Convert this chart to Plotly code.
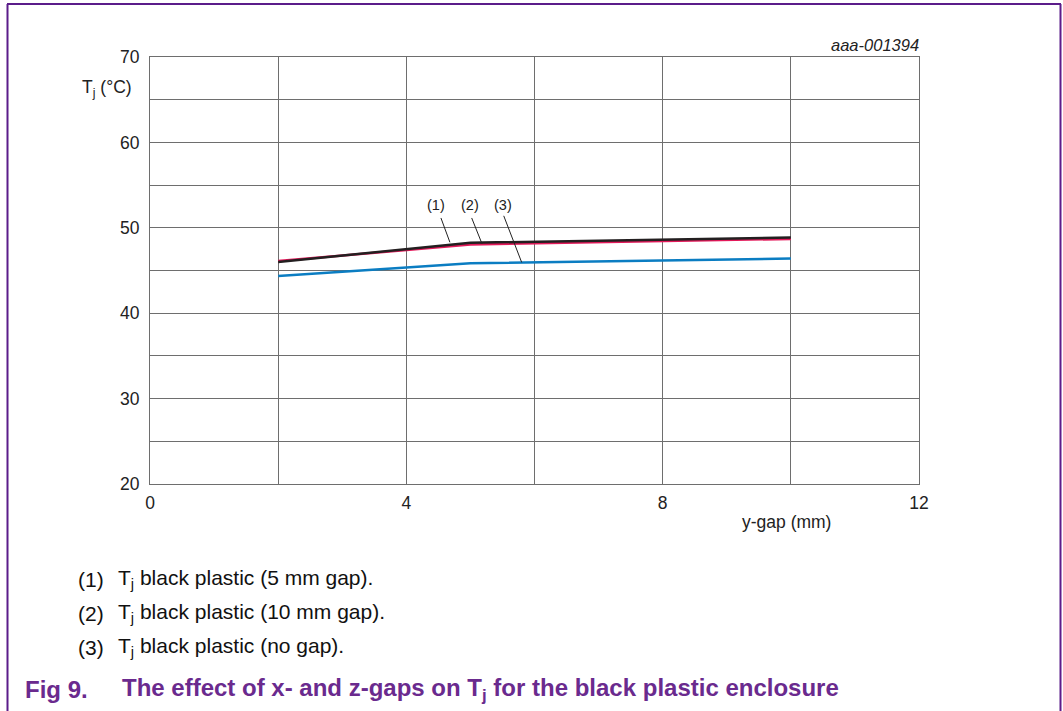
import plotly.graph_objects as go

# Junction temperature vs y-gap for the black plastic enclosure
y_gap_mm = [2, 5, 10]
tj_5mm_gap = [46.0, 48.25, 48.85]
tj_10mm_gap = [46.1, 48.05, 48.7]
tj_no_gap = [44.35, 45.85, 46.4]

x_tick_vals = [0, 4, 8, 12]
y_tick_vals = [20, 30, 40, 50, 60, 70]

legend_lines = [
    "(1)", "T<sub>j</sub> black plastic (5 mm gap).",
    "(2)", "T<sub>j</sub> black plastic (10 mm gap).",
    "(3)", "T<sub>j</sub> black plastic (no gap).",
]

FONT = "Liberation Sans, Arial, sans-serif"
GRID = "#6e6e6e"
PURPLE = "#5b1c8a"
W, H = 1063, 711
L, R, T, B = 150, 144, 57, 227
PW, PH = W - L - R, H - T - B


def px(x):
    return (x - L) / PW


def py(y):
    return (H - B - y) / PH


fig = go.Figure()
fig.add_trace(go.Scatter(x=y_gap_mm, y=tj_10mm_gap, mode="lines",
                         line=dict(color="#e3195a", width=2.5)))
fig.add_trace(go.Scatter(x=y_gap_mm, y=tj_5mm_gap, mode="lines",
                         line=dict(color="#231f20", width=2.5)))
fig.add_trace(go.Scatter(x=y_gap_mm, y=tj_no_gap, mode="lines",
                         line=dict(color="#0b7dc2", width=2.5)))

# curve labels with leader lines
labels = [("(1)", 4.46, (4.54, 51.15), (4.68, 48.3)),
          ("(2)", 4.99, (5.02, 51.15), (5.18, 48.15)),
          ("(3)", 5.51, (5.52, 51.4), (5.80, 45.95))]
for text, lx, p0, p1 in labels:
    fig.add_annotation(x=lx, y=52.7, text=text, showarrow=False, xref="x", yref="y",
                       font=dict(family=FONT, size=14.5, color="#222"))
    fig.add_shape(type="line", xref="x", yref="y", x0=p0[0], y0=p0[1], x1=p1[0], y1=p1[1],
                  line=dict(color="#222", width=1))

# axis titles and code
fig.add_annotation(x=px(134), y=py(89), text="T<sub>j</sub> (°C)", showarrow=False,
                   xref="paper", yref="paper", xanchor="right", yanchor="middle",
                   font=dict(family=FONT, size=17.5, color="#222"))
fig.add_annotation(x=px(786), y=py(522), text="y-gap (mm)", showarrow=False,
                   xref="paper", yref="paper", xanchor="center", yanchor="middle",
                   font=dict(family=FONT, size=17.5, color="#222"))
fig.add_annotation(x=px(921), y=py(45), text="<i>aaa-001394</i>", showarrow=False,
                   xref="paper", yref="paper", xanchor="right", yanchor="middle",
                   font=dict(family=FONT, size=16.5, color="#222"))

# legend text below the chart
for i in range(3):
    yy = 579 + 34 * i
    fig.add_annotation(x=px(76), y=py(yy), text=legend_lines[2 * i], showarrow=False,
                       xref="paper", yref="paper", xanchor="left", yanchor="middle",
                       font=dict(family=FONT, size=21, color="#111"))
    fig.add_annotation(x=px(116), y=py(yy), text=legend_lines[2 * i + 1], showarrow=False,
                       xref="paper", yref="paper", xanchor="left", yanchor="middle",
                       font=dict(family=FONT, size=21, color="#111"))

# figure caption
fig.add_annotation(x=px(23), y=py(689), text="<b>Fig 9.</b>", showarrow=False,
                   xref="paper", yref="paper", xanchor="left", yanchor="middle",
                   font=dict(family=FONT, size=24, color="#6a2a8e"))
fig.add_annotation(x=px(120), y=py(689),
                   text="<b>The effect of x- and z-gaps on T<sub>j</sub> for the black plastic enclosure</b>",
                   showarrow=False, xref="paper", yref="paper", xanchor="left", yanchor="middle",
                   font=dict(family=FONT, size=24, color="#6a2a8e"))

# page frame
for x0, y0, x1, y1 in [(7, 4, 1061, 4), (7.5, 4, 7.5, 711), (1060.5, 4, 1060.5, 711)]:
    fig.add_shape(type="line", xref="paper", yref="paper",
                  x0=px(x0), y0=py(y0), x1=px(x1), y1=py(y1),
                  line=dict(color=PURPLE, width=2))

fig.update_layout(
    width=W, height=H,
    margin=dict(l=L, r=R, t=T, b=B),
    paper_bgcolor="white", plot_bgcolor="white",
    showlegend=False,
    font=dict(family=FONT, size=17.5, color="#222"),
    xaxis=dict(range=[0, 12], tickvals=x_tick_vals, showgrid=True, gridcolor=GRID, gridwidth=1.2,
               minor=dict(dtick=2, showgrid=True, gridcolor=GRID, gridwidth=1.2),
               showline=True, linecolor=GRID, linewidth=1.2, mirror=True,
               zeroline=False, ticks="", ticklabelstandoff=3,
               tickfont=dict(family=FONT, size=17.5, color="#222")),
    yaxis=dict(range=[20, 70], tickvals=y_tick_vals, showgrid=True, gridcolor=GRID, gridwidth=1.2,
               minor=dict(dtick=5, showgrid=True, gridcolor=GRID, gridwidth=1.2),
               showline=True, linecolor=GRID, linewidth=1.2, mirror=True,
               zeroline=False, ticks="", ticklabelstandoff=6,
               tickfont=dict(family=FONT, size=17.5, color="#222")),
)

fig.write_html("out.html")
